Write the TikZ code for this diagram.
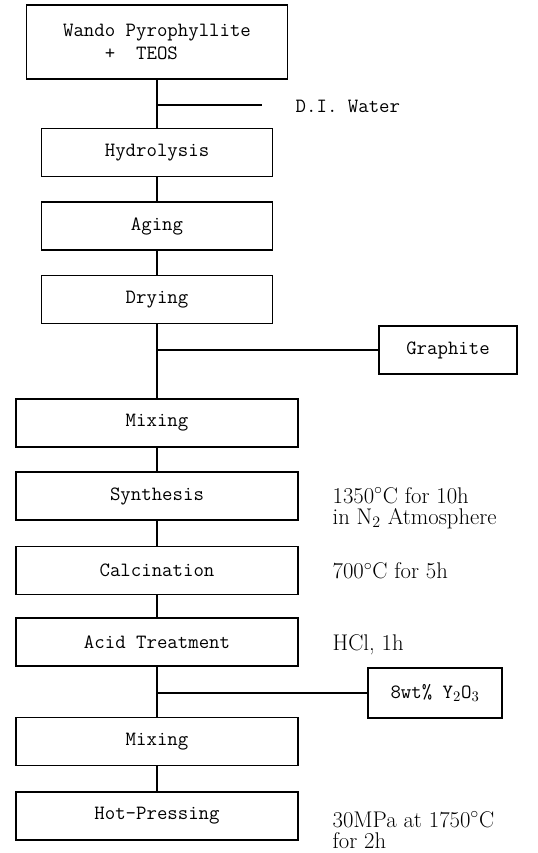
\documentclass[tikz,border=0pt]{standalone}
\usepackage{tikz}
\usetikzlibrary{positioning}
\tikzset{
    stepnode/.style = {rectangle, draw=black, line width=1pt, align=center, inner sep=2pt, font=\ttfamily\fontsize{15.2}{17.5}\selectfont},
    widenode/.style = {stepnode, minimum width=211.5pt, minimum height=36pt},
    narrownode/.style = {stepnode, minimum width=173.25pt, minimum height=36pt},
    addnode/.style = {stepnode, minimum height=36pt},
    sidetext/.style = {anchor=west, font=\ttfamily\fontsize{15.2}{17.5}\selectfont},
    condtext/.style = {anchor=west, align=left, inner sep=1pt, font=\rmfamily\fontsize{17}{16}\selectfont},
}

\begin{document}
\begin{tikzpicture}[
	x=0.75pt,
	y=-0.75pt
]
\tikzset{
    link/.style = {-, line width=1pt}
}
\useasboundingbox (0,0) rectangle (537,853);
\node[stepnode, minimum width=195.75pt, minimum height=55.5pt, align=left] at (157,42) (src) {Wando Pyrophyllite\\~~~~+~~TEOS};
\node[narrownode] at (157,152.5) (hydro) {Hydrolysis};
\node[narrownode] at (157,226) (aging) {Aging};
\node[narrownode] at (157,299.5) (drying) {Drying};
\node[widenode] at (157,423) (mixa) {Mixing};
\node[widenode] at (157,496) (synth) {Synthesis};
\node[widenode] at (157,570.5) (calc) {Calcination};
\node[widenode] at (157,642) (acid) {Acid Treatment};
\node[widenode] at (157,741.5) (mixb) {Mixing};
\node[widenode] at (157,816) (hotp) {Hot-Pressing};
%
\node[addnode, minimum width=103.5pt] at (448,350) (graphite) {Graphite};
\node[addnode, minimum width=100.5pt, minimum height=37.5pt] at (435,693) (yttria) {8wt\% Y$_2$O$_3$};
\node[sidetext] at (291,106) (water) {D.I. Water};
%
\node[condtext] at (331,508) (synthc) {1350$^{\circ}$C for 10h\\in N$_2$ Atmosphere};
\node[condtext] at (331,571) (calcc) {700$^{\circ}$C for 5h};
\node[condtext] at (331,645) (acidc) {HCl, 1h};
\node[condtext] at (331,830) (hotpc) {30MPa at 1750$^{\circ}$C\\for 2h};
%
\coordinate (waterjoin) at (157,105);
\coordinate (waterend) at (262,105);
\coordinate (graphitejoin) at (157,350);
\coordinate (yttriajoin) at (157,693);
%
\draw[link] (src) -- (hydro);
\draw[link] (hydro) -- (aging);
\draw[link] (aging) -- (drying);
\draw[link] (drying) -- (mixa);
\draw[link] (mixa) -- (synth);
\draw[link] (synth) -- (calc);
\draw[link] (calc) -- (acid);
\draw[link] (acid) -- (mixb);
\draw[link] (mixb) -- (hotp);
%
\draw[link] (waterjoin) -- (waterend);
\draw[link] (graphitejoin) -- (graphite);
\draw[link] (yttriajoin) -- (yttria);
\end{tikzpicture}
\end{document}
